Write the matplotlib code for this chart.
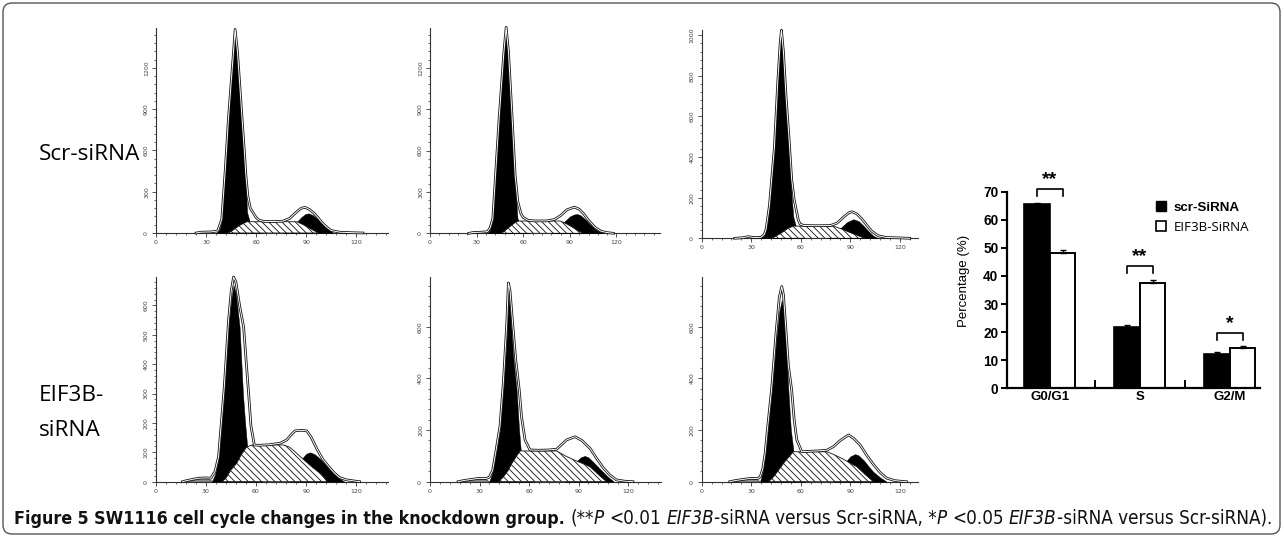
import numpy as np
import matplotlib
matplotlib.use('Agg')
import matplotlib.pyplot as plt
from matplotlib.patches import Patch, FancyBboxPatch
from matplotlib.ticker import MultipleLocator
from matplotlib import font_manager
from matplotlib.font_manager import FontProperties

# ---- flow cytometry histograms: (DNA channel, count) points ----
# Scr-siRNA replicate 1
scr1_g1 = [(36, 0), (38, 25), (39.4, 94), (41.5, 450), (43.4, 820), (45, 1080), (46.4, 1305), (47.4, 1475),
           (48.8, 1305), (50, 1080), (51.4, 820), (52.8, 560), (53.8, 336), (54.6, 150), (56, 90), (58, 45),
           (61, 10), (64, 0)]
scr1_s = [(43, 0), (46, 20), (50, 55), (54.4, 82), (84.4, 82), (88, 62), (92, 35), (95, 15), (97.4, 0)]
scr1_g2 = [(76, 0), (80, 25), (84, 75), (87, 115), (89.5, 138), (91.4, 143), (94, 130), (97, 100), (99, 78),
           (102, 40), (106.4, 0)]
scr1_env = [(24, 0), (27, 6), (33, 8), (37, 15), (39.4, 100), (41.5, 460), (43.4, 830), (45, 1090), (46.4, 1310),
            (47.4, 1480), (48.8, 1320), (50, 1110), (51.4, 860), (52.8, 620), (53.8, 430), (55, 270), (56.5, 180),
            (58.4, 143), (60, 112), (62, 92), (65, 84), (70, 83), (76, 86), (80, 105), (84.4, 155), (87, 180),
            (89.4, 186), (92, 170), (95, 140), (97, 112), (99, 82), (102, 45), (105, 18), (110, 6), (118, 2),
            (124, 0)]

# Scr-siRNA replicate 2
scr2_g1 = [(37, 0), (38.7, 30), (40.4, 97), (44.5, 827), (47.5, 1300), (49, 1490), (50.5, 1300), (52.7, 827),
           (54.8, 341), (56.3, 110), (58, 60), (61, 15), (64, 0)]
scr2_s = [(45, 0), (47.3, 10), (51, 45), (55, 80), (57, 89), (83.9, 89), (88, 68), (92, 42), (95, 20), (98.7, 0)]
scr2_g2 = [(78, 0), (82, 30), (86, 80), (90, 122), (92.5, 136), (94.8, 140), (97, 130), (100, 100), (103, 65),
           (107, 25), (111.6, 0)]
scr2_env = [(25, 0), (28, 6), (33, 8), (37, 12), (38.7, 40), (40.4, 105), (44.5, 840), (47.5, 1310), (49, 1495),
            (50.5, 1320), (52.7, 870), (54.8, 420), (56.5, 230), (58.5, 143), (60, 115), (63, 95), (67, 90),
            (75, 90), (80, 100), (84, 128), (88, 170), (92.9, 190), (96, 175), (99, 140), (102, 95), (106, 45),
            (110, 15), (114, 5), (118, 0)]

# Scr-siRNA replicate 3
scr3_g1 = [(35, 0), (37.5, 10), (39, 40), (41, 150), (44, 435), (46, 750), (47.5, 950), (48.3, 1015), (49.5, 900),
           (51, 680), (53, 435), (54.5, 200), (55.5, 106), (57, 60), (59, 25), (62, 0)]
scr3_s = [(42, 0), (44.4, 8), (48, 25), (52, 48), (55.5, 60), (79.8, 60), (85, 45), (90, 28), (95, 12), (99, 0)]
scr3_g2 = [(76, 0), (80, 20), (84, 50), (88, 80), (91.9, 94), (95, 85), (98, 62), (101, 35), (104, 12), (107, 0)]
scr3_env = [(20, 0), (25, 3), (28, 8), (32, 4), (36, 5), (38, 20), (39, 45), (41, 160), (44, 445), (46, 760),
            (47.5, 960), (48.3, 1025), (49.5, 920), (51, 710), (53, 480), (54.5, 290), (56, 190), (57.5, 130),
            (58.5, 90), (59.6, 70), (62, 63), (70, 62), (78, 63), (82, 75), (86, 105), (89, 125), (91, 131),
            (94, 120), (97, 95), (100, 65), (103, 35), (107, 12), (112, 4), (120, 2), (126, 0)]

# EIF3B-siRNA replicate 1
eif1_deb = [(17.6, 0), (20, 4), (24, 9), (28, 12), (31, 11), (34.6, 0)]
eif1_g1 = [(33.6, 0), (35.5, 25), (37.6, 74), (41, 300), (43.6, 527), (45.2, 620), (46.6, 669), (48, 640),
           (50.2, 527), (52.2, 300), (53.5, 200), (54.6, 130), (56, 80), (58, 40), (61, 10), (64, 0)]
eif1_s = [(39.6, 0), (42, 12), (45, 40), (48.4, 62), (51, 90), (54.4, 118), (57.6, 125), (76.4, 125), (80, 118),
          (83, 104), (86.6, 85), (90, 68), (94, 48), (98.6, 28), (101, 12), (102.6, 0)]
eif1_g2 = [(80, 0), (84, 40), (87, 75), (90, 95), (92.4, 100), (95, 94), (98, 80), (101, 62), (104, 44),
           (107, 26), (110, 11), (113, 0)]
eif1_env = [(16, 0), (18, 3), (22, 8), (26, 12), (30, 13), (33, 12), (35.5, 35), (37.6, 85), (41, 320),
            (43.6, 550), (45.2, 650), (46.6, 697), (48, 680), (50.2, 600), (52.6, 527), (54, 420), (55.6, 300),
            (57, 190), (59, 125), (62, 124), (68, 126), (74.4, 131), (78.4, 142), (81, 160), (83.4, 173),
            (87, 175), (90.4, 173), (93, 152), (96.4, 112), (100, 76), (104, 48), (107, 29), (110, 14),
            (114.4, 6), (122, 0)]

# EIF3B-siRNA replicate 2
eif2_deb = [(19.2, 0), (22, 5), (26, 10), (30, 13), (33, 11), (36.4, 0)]
eif2_g1 = [(35.9, 0), (38, 40), (40, 110), (42.4, 200), (44.4, 355), (46.5, 560), (47.5, 723), (48.8, 640),
           (50.5, 480), (52.5, 355), (54, 200), (55, 123), (57, 70), (60, 25), (63, 0)]
eif2_s = [(41.4, 0), (44, 15), (47, 40), (50, 75), (54.5, 119), (76.8, 119), (82, 100), (87, 85), (92, 72),
          (97, 58), (102, 28), (107, 0)]
eif2_g2 = [(82, 0), (86, 50), (89, 80), (91.5, 95), (93.9, 100), (96, 94), (99, 76), (102, 56), (105, 37),
           (108, 18), (111.5, 0)]
eif2_env = [(17, 0), (20, 4), (25, 9), (30, 13), (34, 12), (36, 18), (38, 45), (40, 120), (42.4, 215),
            (44.4, 380), (46.5, 610), (47.5, 770), (48.5, 740), (50, 620), (52, 470), (54.1, 355), (55.5, 250),
            (57.6, 162), (60.6, 123), (66, 122), (72, 123), (76.8, 126), (80, 145), (82.8, 162), (87.9, 174),
            (92, 160), (97, 129), (101, 90), (105, 54), (109, 26), (113, 7), (118, 2), (123, 0)]

# EIF3B-siRNA replicate 3
eif3_deb = [(19.2, 0), (22, 5), (26, 10), (30, 13), (33, 11), (35.3, 0)]
eif3_g1 = [(35.3, 0), (37, 40), (38.4, 97), (40, 200), (42.5, 350), (45, 540), (47, 660), (48.5, 704),
           (49.5, 660), (51, 520), (52.5, 355), (54, 200), (55.5, 123), (57, 75), (60, 25), (63, 0)]
eif3_s = [(40.4, 0), (43, 15), (46, 40), (50, 75), (55.5, 116), (75.8, 116), (80, 105), (85, 90), (90, 72),
          (94, 58), (99, 28), (104, 0)]
eif3_g2 = [(80, 0), (84, 40), (87, 75), (90, 98), (92.9, 107), (95, 102), (98, 84), (101, 60), (104, 38),
           (108, 17), (112, 0)]
eif3_env = [(17, 0), (20, 4), (25, 9), (30, 13), (34, 12), (35.5, 20), (37, 50), (38.4, 110), (40, 215),
            (42.5, 370), (45, 575), (47, 715), (48.5, 756), (49.5, 725), (51, 590), (52.5, 450), (54.5, 355),
            (56, 240), (57.6, 162), (60.6, 116), (65.6, 118), (72, 120), (75.8, 122), (79.8, 136), (84, 160),
            (88.9, 181), (92, 168), (96, 142), (100, 102), (104, 67), (108, 36), (112, 14), (117, 4), (124, 0)]

# ---- bar chart ----
phases = ['G0/G1', 'S', 'G2/M']
scr_pct = [65.5, 21.8, 12.3]
scr_err = [0.5, 0.8, 0.6]
eif_pct = [48.0, 37.5, 14.3]
eif_err = [1.2, 1.2, 0.6]
signif = ['**', '**', '*']

W, H = 1284, 538
fig = plt.figure(figsize=(W / 100, H / 100), dpi=100)
plt.rcParams['hatch.linewidth'] = 0.6

# condensed face for the caption, if one is installed
files = [f.fname for f in font_manager.fontManager.ttflist]


def find_face(key):
    for fn in files:
        if fn.endswith(key):
            return FontProperties(fname=fn)
    return None


cap_fonts = {'normal': find_face('DejaVuSansCondensed.ttf'),
             'bold': find_face('DejaVuSansCondensed-Bold.ttf'),
             'italic': find_face('DejaVuSansCondensed-Oblique.ttf')}
if any(v is None for v in cap_fonts.values()):
    cap_fonts = {'normal': FontProperties(family='Liberation Sans'),
                 'bold': FontProperties(family='Liberation Sans', weight='bold'),
                 'italic': FontProperties(family='Liberation Sans', style='italic')}


def px_axes(left, top, right, bottom):
    return fig.add_axes([left / W, 1 - bottom / H, (right - left) / W, (bottom - top) / H])


def flow_panel(rect, xmax, ymax, ystep, deb, g1, s, g2, env, xstep=30):
    ax = px_axes(*rect)
    ax.patch.set_alpha(0)
    if deb:
        dx, dy = np.array(deb).T
        ax.fill_between(dx, 0, dy, facecolor='#8a8a8a', edgecolor='#444', lw=0.5, zorder=2)
    for part in (g1, g2):
        gx, gy = np.array(part).T
        ax.fill_between(gx, 0, gy, color='black', lw=0.3, zorder=3)
    sx, sy = np.array(s).T
    ax.fill_between(sx, 0, sy, facecolor='white', edgecolor='#111', hatch='\\\\\\\\\\', lw=0.6, zorder=4)
    ex, ey = np.array(env).T
    ax.plot(ex, ey, color='#111', lw=1.9, zorder=5, clip_on=False)
    ax.plot(ex, ey, color='white', lw=0.7, zorder=6, clip_on=False)
    ax.set_xlim(0, xmax)
    ax.set_ylim(0, ymax)
    ax.xaxis.set_major_locator(MultipleLocator(xstep))
    ax.xaxis.set_minor_locator(MultipleLocator(xstep / 5))
    ax.yaxis.set_major_locator(MultipleLocator(ystep))
    ax.yaxis.set_minor_locator(MultipleLocator(ystep / 5))
    for side in ('top', 'right'):
        ax.spines[side].set_visible(False)
    for side in ('left', 'bottom'):
        ax.spines[side].set_linewidth(0.8)
        ax.spines[side].set_color('#333')
    ax.tick_params(which='major', length=3, width=0.6, color='#333', labelsize=4.5, labelcolor='#444', pad=2)
    ax.tick_params(which='minor', length=1.6, width=0.5, color='#333')
    plt.setp(ax.get_yticklabels(), rotation=90, va='center')
    return ax


flow_panel((156, 28, 388, 233), 139, 1490, 300, None, scr1_g1, scr1_s, scr1_g2, scr1_env)
flow_panel((430, 28, 660, 233.3), 148, 1490, 300, None, scr2_g1, scr2_s, scr2_g2, scr2_env)
flow_panel((701.7, 30, 918, 238.3), 131, 1026, 200, None, scr3_g1, scr3_s, scr3_g2, scr3_env)
flow_panel((155.7, 277, 388, 481.7), 139, 697, 100, eif1_deb, eif1_g1, eif1_s, eif1_g2, eif1_env)
flow_panel((430, 277, 661, 481.7), 140, 793, 200, eif2_deb, eif2_g1, eif2_s, eif2_g2, eif2_env)
flow_panel((701.7, 277, 918, 481.7), 131, 793, 200, eif3_deb, eif3_g1, eif3_s, eif3_g2, eif3_env)

# row labels
fig.text(39 / W, 1 - 155 / H, 'Scr-siRNA', fontsize=16.2, family='Open Sans', va='center', ha='left')
fig.text(39 / W, 1 - 413 / H, 'EIF3B-\nsiRNA', fontsize=16.2, family='Open Sans', va='center', ha='left',
         linespacing=1.85)

# bar chart
ax = px_axes(1006.7, 191.7, 1259.6, 388.3)
ax.patch.set_alpha(0)
x = np.arange(len(phases))
w = 0.283
ax.bar(x - w / 2, scr_pct, w, color='black', edgecolor='black', lw=1.2, zorder=2)
ax.bar(x + w / 2, eif_pct, w, color='white', edgecolor='black', lw=1.4, zorder=2)
ax.errorbar(x - w / 2, scr_pct, yerr=[np.zeros(3), scr_err], fmt='none', ecolor='black', elinewidth=1,
            capsize=2.5, capthick=1, zorder=3)
ax.errorbar(x + w / 2, eif_pct, yerr=[np.zeros(3), eif_err], fmt='none', ecolor='black', elinewidth=1,
            capsize=2.5, capthick=1, zorder=3)
for i in range(len(phases)):
    top = max(scr_pct[i] + scr_err[i], eif_pct[i] + eif_err[i])
    yb = top + 4.9
    ax.plot([i - w / 2, i - w / 2, i + w / 2, i + w / 2], [yb - 2.5, yb, yb, yb - 2.5], color='black', lw=1.2,
            clip_on=False)
    ax.text(i, yb + 0.3, signif[i], ha='center', va='bottom', fontsize=14, fontweight='bold',
            family='Liberation Sans')
ax.set_xlim(-0.48, 2.33)
ax.set_ylim(0, 70)
ax.yaxis.set_major_locator(MultipleLocator(10))
ax.set_xticks(x)
ax.set_xticklabels(phases, fontsize=9.5, fontweight='bold', family='Liberation Sans')
ax.set_xticks([0.5, 1.5], minor=True)
ax.tick_params(axis='x', which='major', length=0, pad=2)
ax.tick_params(axis='x', which='minor', direction='in', length=6, width=1.4)
ax.tick_params(axis='y', length=4, width=1.4, labelsize=9.8, pad=2)
for lab in ax.get_yticklabels():
    lab.set_fontweight('bold')
    lab.set_family('Liberation Sans')
for side in ('top', 'right'):
    ax.spines[side].set_visible(False)
for side in ('left', 'bottom'):
    ax.spines[side].set_linewidth(1.6)
ax.set_ylabel('Percentage (%)', fontsize=9.5, family='Liberation Sans')
ax.yaxis.set_label_coords(-0.145, 0.546)
leg = ax.legend([Patch(facecolor='black', edgecolor='black'), Patch(facecolor='white', edgecolor='black', lw=1.2)],
                ['scr-SiRNA', 'EIF3B-SiRNA'], loc='upper left', bbox_to_anchor=(1156 / W, 1 - 201 / H),
                bbox_transform=fig.transFigure, frameon=False, handlelength=0.75, handleheight=0.75,
                handletextpad=0.55, labelspacing=0.55, borderpad=0, borderaxespad=0, fontsize=9.6)
leg.get_texts()[0].set_fontweight('bold')
leg.get_texts()[0].set_family('Liberation Sans')
leg.get_texts()[1].set_family('Open Sans')

# caption
pieces = [('Figure 5 SW1116 cell cycle changes in the knockdown group.', 'bold', True),
          ('(**', 'normal', False), ('P', 'italic', True), ('<0.01', 'normal', True),
          ('EIF3B', 'italic', False), ('-siRNA versus Scr-siRNA, *', 'normal', False),
          ('P', 'italic', True), ('<0.05', 'normal', True), ('EIF3B', 'italic', False),
          ('-siRNA versus Scr-siRNA).', 'normal', False)]
renderer = fig.canvas.get_renderer()


def place_caption(size, draw=True):
    xpos = 14.0
    made = []
    fp = cap_fonts['normal'].copy()
    fp.set_size(size)
    sp = fig.text(0, 0, 'a a', fontproperties=fp)
    sp2 = fig.text(0, 0, 'aa', fontproperties=fp)
    space = sp.get_window_extent(renderer).width - sp2.get_window_extent(renderer).width
    sp.remove()
    sp2.remove()
    for txt, sty, gap in pieces:
        fp = cap_fonts[sty].copy()
        fp.set_size(size * (0.95 if sty == 'bold' else 1.0))
        t = fig.text(xpos / W, 1 - 524 / H, txt, fontproperties=fp, va='baseline', ha='left', color='#111')
        xpos += t.get_window_extent(renderer).width + (space if gap else 0)
        made.append(t)
    if not draw:
        for t in made:
            t.remove()
    return xpos


cap_size = 11.0
total = place_caption(cap_size, draw=False) - 14
cap_size = cap_size * 1254 / total
place_caption(cap_size)

fig.patches.append(FancyBboxPatch((3, 4), 1277, 531, boxstyle='round,pad=0,rounding_size=9', transform=None,
                                  facecolor='none', edgecolor='#555', lw=1.0))

fig.savefig('out.png', dpi=100)
